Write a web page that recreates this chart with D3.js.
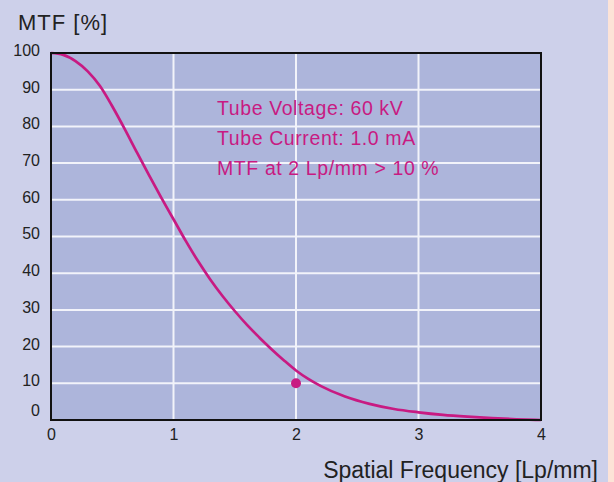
<!DOCTYPE html>
<html><head><meta charset="utf-8">
<script src="https://cdn.jsdelivr.net/npm/d3@7"></script>
<style>body{margin:0;background:#cdd0ea;}svg{display:block;font-family:"Liberation Sans",Arial,sans-serif;}</style>
</head><body>
<script>
const freq = [0,0.1,0.2,0.3,0.4,0.5,0.6,0.7,0.8,0.9,1.0,1.1,1.2,1.3,1.4,1.5,1.6,1.7,1.8,1.9,2.0,2.1,2.2,2.4,2.6,2.8,3.0,3.2,3.4,3.6,3.8,4.0];
const mtf  = [100,99.5,97.8,95,91,85.5,79.4,73,66.7,60.6,54.7,48.8,43.3,38.3,33.8,29.7,25.9,22.5,19.3,16.3,13.5,11.2,9.3,6.4,4.4,3.0,2.1,1.4,0.9,0.5,0.2,0];
const specPoint = [{f:2, m:10}];
const xTicks = [0,1,2,3,4];
const yTicks = [0,10,20,30,40,50,60,70,80,90,100];
const notes = ["Tube Voltage: 60 kV","Tube Current: 1.0 mA","MTF at 2 Lp/mm > 10 %"];

const W=614,H=482;
const svg=d3.select("body").append("svg").attr("width",W).attr("height",H);
svg.append("rect").attr("width",W).attr("height",H).attr("fill","#cdd0ea");
svg.append("rect").attr("x",608).attr("width",6).attr("height",H).attr("fill","#fde3d7");

const x=d3.scaleLinear().domain([0,4]).range([51,541]);
const y=d3.scaleLinear().domain([0,100]).range([420,53]);
const magenta="#c81a82";

svg.append("rect").attr("x",x(0)).attr("y",y(100)).attr("width",x(4)-x(0)).attr("height",y(0)-y(100)).attr("fill","#adb5db");

// grid
const g=svg.append("g");
g.selectAll(".gx").data(xTicks.slice(1,-1)).join("line").attr("x1",d=>x(d)).attr("x2",d=>x(d)).attr("y1",y(100)).attr("y2",y(0)).attr("stroke","#f2f3fa").attr("stroke-width",2);
g.selectAll(".gy").data(yTicks.slice(1,-1)).join("line").attr("x1",x(0)).attr("x2",x(4)).attr("y1",d=>y(d)).attr("y2",d=>y(d)).attr("stroke","#f2f3fa").attr("stroke-width",2);

// curve
const line=d3.line().x((d,i)=>x(freq[i])).y((d,i)=>y(mtf[i])).curve(d3.curveMonotoneX);
svg.append("path").attr("d",line(mtf)).attr("fill","none").attr("stroke",magenta).attr("stroke-width",2.7);

svg.selectAll(".pt").data(specPoint).join("circle").attr("cx",d=>x(d.f)).attr("cy",d=>y(d.m)).attr("r",5).attr("fill",magenta);

// frame
svg.append("rect").attr("x",x(0)).attr("y",y(100)).attr("width",x(4)-x(0)).attr("height",y(0)-y(100)).attr("fill","none").attr("stroke","#111").attr("stroke-width",2);

// axes labels
const yAxis=d3.axisLeft(y).tickValues(yTicks).tickSize(0).tickPadding(11);
const ya=svg.append("g").attr("transform",`translate(${x(0)},0)`).call(yAxis);
ya.select(".domain").remove();
ya.selectAll("text").attr("font-size",16).attr("fill","#222").attr("font-family","Liberation Sans, Arial, sans-serif")
  .attr("dy",d=>d===0?"-0.3em":"0.15em");

const xAxis=d3.axisBottom(x).tickValues(xTicks).tickFormat(d3.format("d")).tickSize(0).tickPadding(9);
const xa=svg.append("g").attr("transform",`translate(0,${y(0)})`).call(xAxis);
xa.select(".domain").remove();
xa.selectAll("text").attr("font-size",16).attr("fill","#222").attr("font-family","Liberation Sans, Arial, sans-serif");

svg.append("text").attr("x",18).attr("y",30).attr("font-size",22).attr("letter-spacing",1).attr("fill","#222").text("MTF [%]");
svg.append("text").attr("x",598).attr("y",478).attr("text-anchor","end").attr("font-size",23).attr("fill","#222").text("Spatial Frequency [Lp/mm]");

svg.selectAll(".note").data(notes).join("text").attr("x",217).attr("y",(d,i)=>115+i*30).attr("font-size",19.5).attr("letter-spacing",0.6).attr("fill",magenta).text(d=>d);
</script>
</body></html>
